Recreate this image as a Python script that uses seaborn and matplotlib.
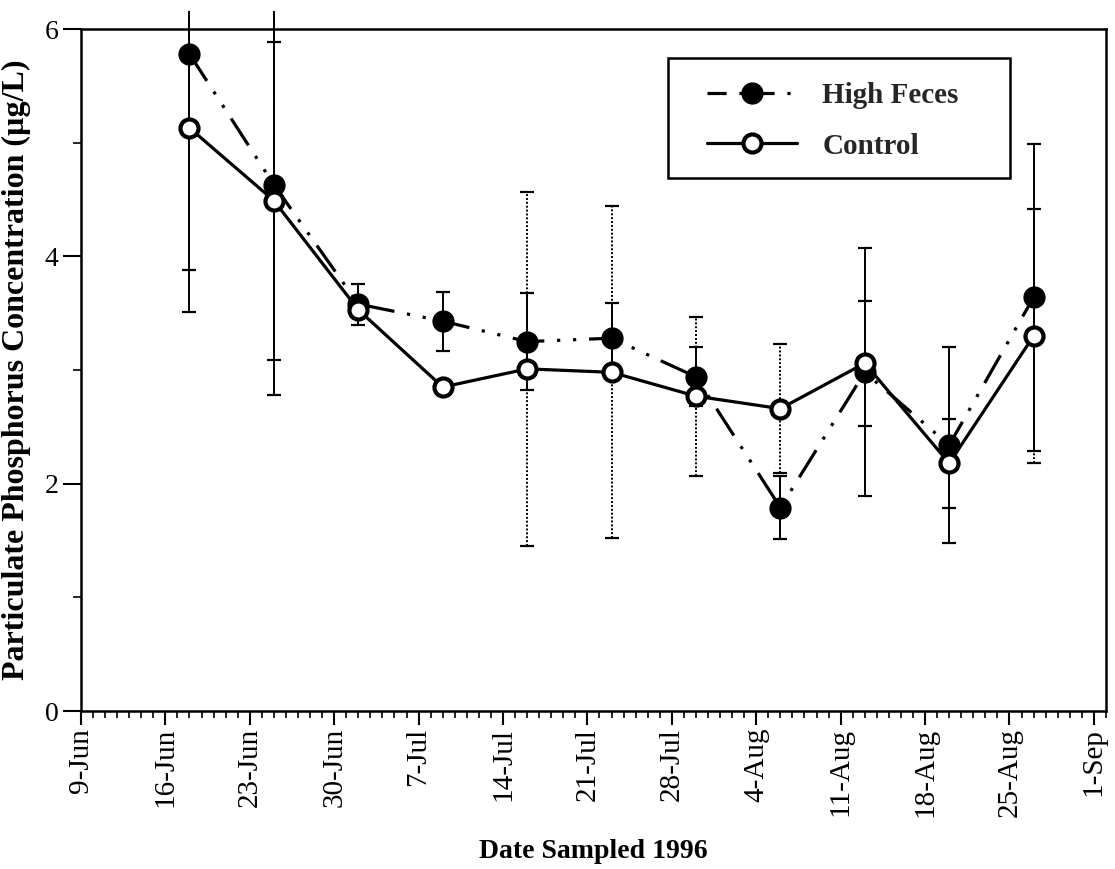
import matplotlib
matplotlib.use("Agg")
import matplotlib.pyplot as plt
import matplotlib.dates as mdates
from matplotlib.transforms import Bbox, TransformedBbox
from matplotlib.lines import Line2D
from matplotlib.patches import Rectangle
import numpy as np
import pandas as pd
import seaborn as sns

# ---------------- data ----------------
sample_dates = ["1996-06-18", "1996-06-25", "1996-07-02", "1996-07-09", "1996-07-16",
                "1996-07-23", "1996-07-30", "1996-08-06", "1996-08-13", "1996-08-20",
                "1996-08-27"]
high_feces = [5.78, 4.63, 3.58, 3.43, 3.25, 3.28, 2.94, 1.79, 2.98, 2.34, 3.64]
high_feces_err = [2.27, 1.85, 0.18, 0.26, 0.43, 0.31, 0.26, 0.28, 1.09, 0.86, 1.35]
control = [5.13, 4.49, 3.53, 2.85, 3.01, 2.98, 2.77, 2.66, 3.06, 2.18, 3.30]
control_err = [1.25, 1.40, 0.04, 0.04, 1.56, 1.46, 0.70, 0.57, 0.55, 0.39, 1.12]

tick_dates = ["1996-06-09", "1996-06-16", "1996-06-23", "1996-06-30", "1996-07-07",
              "1996-07-14", "1996-07-21", "1996-07-28", "1996-08-04", "1996-08-11",
              "1996-08-18", "1996-08-25", "1996-09-01"]
tick_labels = ["9-Jun", "16-Jun", "23-Jun", "30-Jun", "7-Jul", "14-Jul", "21-Jul",
               "28-Jul", "4-Aug", "11-Aug", "18-Aug", "25-Aug", "1-Sep"]
y_ticks = [0, 2, 4, 6]
y_minor = [1, 3, 5]

series_names = ["High Feces", "Control"]

# ---------------- style ----------------
sns.set_theme(style="ticks")
plt.rcParams["font.family"] = ["Liberation Serif", "DejaVu Serif"]
plt.rcParams["axes.edgecolor"] = "black"

fig = plt.figure(figsize=(11.15, 8.69), dpi=100)
fig.patch.set_facecolor("white")
ax = fig.add_axes([0.0726, 0.1818, 0.9193, 0.7848])
ax.set_facecolor("white")

df = pd.DataFrame({
    "date": pd.to_datetime(sample_dates),
    "hf": high_feces,
    "hf_err": high_feces_err,
    "ctrl": control,
    "ctrl_err": control_err,
})

hf_ls = (0, (10, 4, 1, 4, 1, 4))
lw = 2.3

# error bars
ext_clip = TransformedBbox(Bbox([[0, 0], [1, 1.026]]), ax.transAxes)

eb_hf = ax.errorbar(df["date"], df["hf"], yerr=df["hf_err"], fmt="none",
                    ecolor="black", elinewidth=1.4, capsize=5, capthick=1.6, zorder=2)
eb_c = ax.errorbar(df["date"], df["ctrl"], yerr=df["ctrl_err"], fmt="none",
                   ecolor="black", elinewidth=1.4, capsize=5, capthick=1.6, zorder=2)
eb_c[2][0].set_linestyle((0, (1, 1)))
for eb in (eb_hf, eb_c):
    for art in list(eb[1]) + list(eb[2]):
        art.set_clip_box(ext_clip)

# lines
sns.lineplot(data=df, x="date", y="hf", ax=ax, color="black", linewidth=lw,
             linestyle=hf_ls, marker="o", markersize=15, markerfacecolor="black",
             markeredgecolor="black", markeredgewidth=1, zorder=3, legend=False)
sns.lineplot(data=df, x="date", y="ctrl", ax=ax, color="black", linewidth=lw,
             linestyle="-", marker="o", markersize=13, markerfacecolor="white",
             markeredgecolor="black", markeredgewidth=3, zorder=4, legend=False)

# axes
ax.set_ylim(0, 6)
ax.set_xlim(pd.Timestamp("1996-06-09"), pd.Timestamp("1996-09-02"))
ax.set_xticks(pd.to_datetime(tick_dates))
ax.set_xticklabels(tick_labels, rotation=90, fontsize=21)
ax.xaxis.set_minor_locator(mdates.DayLocator())
ax.set_yticks(y_ticks)
ax.set_yticks(y_minor, minor=True)
ax.set_yticklabels([str(v) for v in y_ticks], fontsize=20)

ax.tick_params(axis="x", which="major", direction="out", length=10, width=1.5,
               color="black", labelcolor="black", pad=2)
ax.tick_params(axis="x", which="minor", direction="out", length=5, width=1.2,
               color="black")
ax.tick_params(axis="y", which="major", direction="out", length=13, width=1.5,
               color="black", labelcolor="black", pad=3)
ax.tick_params(axis="y", which="minor", direction="out", length=6, width=1.2,
               color="black")
for s in ax.spines.values():
    s.set_visible(True)
    s.set_linewidth(1.8)
    s.set_color("black")

ax.set_xlabel("Date Sampled 1996", fontsize=20, fontweight="bold", labelpad=16,
              color="black")
ax.set_ylabel("Particulate Phosphorus Concentration (µg/L)", fontsize=23,
              fontweight="bold", labelpad=10, color="black")
ax.grid(False)

# legend (frame drawn as a separate rectangle)
ax.add_patch(Rectangle((0.5727, 0.7815), 0.3336, 0.176, transform=ax.transAxes,
                       facecolor="white", edgecolor="black", linewidth=1.8,
                       zorder=5))
handles = [
    Line2D([0], [0], color="black", linewidth=lw, linestyle=(0, (6, 4, 1, 4)),
           marker="o", markersize=15, markerfacecolor="black", markeredgecolor="black"),
    Line2D([0], [0], color="black", linewidth=lw, linestyle="-",
           marker="o", markersize=13, markerfacecolor="white",
           markeredgecolor="black", markeredgewidth=3),
]
leg = ax.legend(handles, series_names, loc="upper left",
                bbox_to_anchor=(0.6107, 0.922), frameon=False,
                borderpad=0, labelspacing=0.8, handlelength=3.1,
                handletextpad=0.85, borderaxespad=0,
                prop={"size": 21, "weight": "bold"})
leg.set_zorder(6)

fig.savefig("out.png", dpi=100, facecolor="white")
